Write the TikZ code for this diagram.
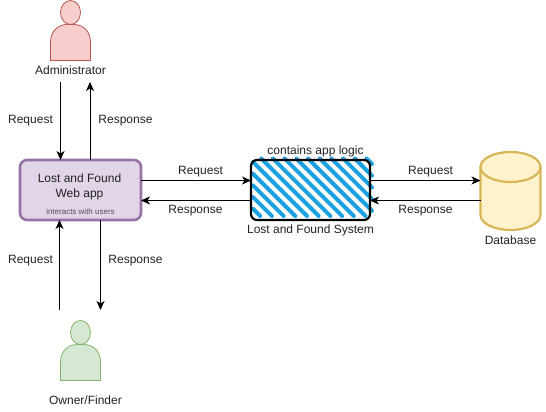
\documentclass[tikz,border=0pt]{standalone}
\usepackage{fontspec}
\setmainfont{Liberation Sans}
\usetikzlibrary{arrows.meta}
\definecolor{txt}{HTML}{222222}
\definecolor{webtext}{HTML}{5A4A62}
\definecolor{webedge}{HTML}{9673A6}\definecolor{webfill}{HTML}{E1D5E7}
\definecolor{hatchblue}{HTML}{1BA1E2}
\definecolor{adminedge}{HTML}{B85450}\definecolor{adminfill}{HTML}{F8CECC}
\definecolor{ownedge}{HTML}{82B366}\definecolor{ownfill}{HTML}{D5E8D4}
\definecolor{dbedge}{HTML}{D6B656}\definecolor{dbfill}{HTML}{FFF2CC}
\tikzset{
  x=1pt,y=-1pt,
  every node/.style={font=\fontsize{12}{15}\selectfont,text=txt,inner sep=0pt,outer sep=0pt},
  conn/.style={draw=black,line width=0.9pt,-{Stealth[length=9pt,width=8pt,inset=2.5pt]}},
  appbox/.style={draw=webedge,fill=webfill,line width=2.6pt,rounded corners=7pt,minimum width=121pt,minimum height=60pt},
  sysbox/.style={draw=black,line width=2.2pt,rounded corners=6pt,minimum width=119pt,minimum height=60pt},
  hatch/.style={draw=hatchblue,line width=4pt,line cap=round},
}
\begin{document}
\begin{tikzpicture}
\useasboundingbox[fill=white] (0,0) rectangle (546,412);
% people
\newcommand{\personshape}[4]{%
  \draw[draw=#3,fill=#4,line width=0.8pt] (#1-20,#2+60) -- (#1-20,#2+42)
    .. controls (#1-20,#2+30) and (#1-12,#2+24) .. (#1-3,#2+24)
    -- (#1+3,#2+24) .. controls (#1+12,#2+24) and (#1+20,#2+30) .. (#1+20,#2+42)
    -- (#1+20,#2+60) -- cycle;
  \draw[draw=#3,fill=#4,line width=0.8pt] (#1,#2+12) ellipse [x radius=10,y radius=12];
}
\personshape{70.5}{0.5}{adminedge}{adminfill}
\personshape{80.5}{320.5}{ownedge}{ownfill}
\node (admin) at (70.5,70.5) {Administrator};
\node (owner) at (85.5,400) {Owner/Finder};
% web app
\node[appbox] (web) at (80.5,190) {};
\node (webtitle) [align=center] at (79.5,187) {Lost and Found\\Web app};
\node (webnote) [font=\fontsize{8}{10}\selectfont,text=webtext] at (80.5,212) {interacts with users};
% system hatching
\foreach \k in {-5,...,9}{
  \pgfmathsetmacro{\c}{102.7+11.7*\k}
  \pgfmathsetmacro{\xa}{max(253,\c+158.5)}
  \pgfmathsetmacro{\ya}{\xa-\c}
  \pgfmathsetmacro{\xb}{min(372,\c+216)}
  \pgfmathsetmacro{\yb}{\xb-\c}
  \draw[hatch] (\xa,\ya) -- (\xb,\yb);
}
\node[sysbox] (sys) at (310.5,190) {};
\node (syslogic) at (315.5,151) {contains app logic};
\node (sysname) at (310.5,230.5) {Lost and Found System};
% database
\node[minimum width=60pt,minimum height=78pt] (db) at (510.5,191) {};
\draw[draw=dbedge,fill=dbfill,line width=2.2pt]
  (480.5,167) arc[start angle=180,end angle=360,x radius=30,y radius=15]
  -- (540.5,215) arc[start angle=0,end angle=180,x radius=30,y radius=15] -- cycle;
\draw[draw=dbedge,line width=2.2pt] (480.5,167) arc[start angle=180,end angle=0,x radius=30,y radius=15];
\node (dbname) at (510.5,240.5) {Database};
% free ends
\coordinate (adminReq) at (60.5,82);
\coordinate (adminResp) at (90,82);
\coordinate (ownerReq) at (59.5,310);
\coordinate (ownerResp) at (100.5,310);
% connectors
\draw[conn] (adminReq) -- (adminReq |- web.north);
\draw[conn] (adminResp |- web.north) -- (adminResp);
\draw[conn] (ownerReq) -- (ownerReq |- web.south);
\draw[conn] (ownerResp |- web.south) -- (ownerResp);
\coordinate (rowReq) at (0,180.5);
\coordinate (rowResp) at (0,200.5);
\draw[conn] (rowReq -| web.east) -- (rowReq -| sys.west);
\draw[conn] (rowResp -| sys.west) -- (rowResp -| web.east);
\draw[conn] (rowReq -| sys.east) -- (rowReq -| db.west);
\draw[conn] (rowResp -| db.west) -- (rowResp -| sys.east);
% labels
\node (l1) at (30.5,120.5) {Request};
\node (l2) at (125.5,120.5) {Response};
\node (l3) at (30.5,260.5) {Request};
\node (l4) at (135.5,260.5) {Response};
\node (l5) at (200.5,171.5) {Request};
\node (l6) at (195.5,210.5) {Response};
\node (l7) at (430.5,171.5) {Request};
\node (l8) at (425.5,210.5) {Response};
\end{tikzpicture}
\end{document}
